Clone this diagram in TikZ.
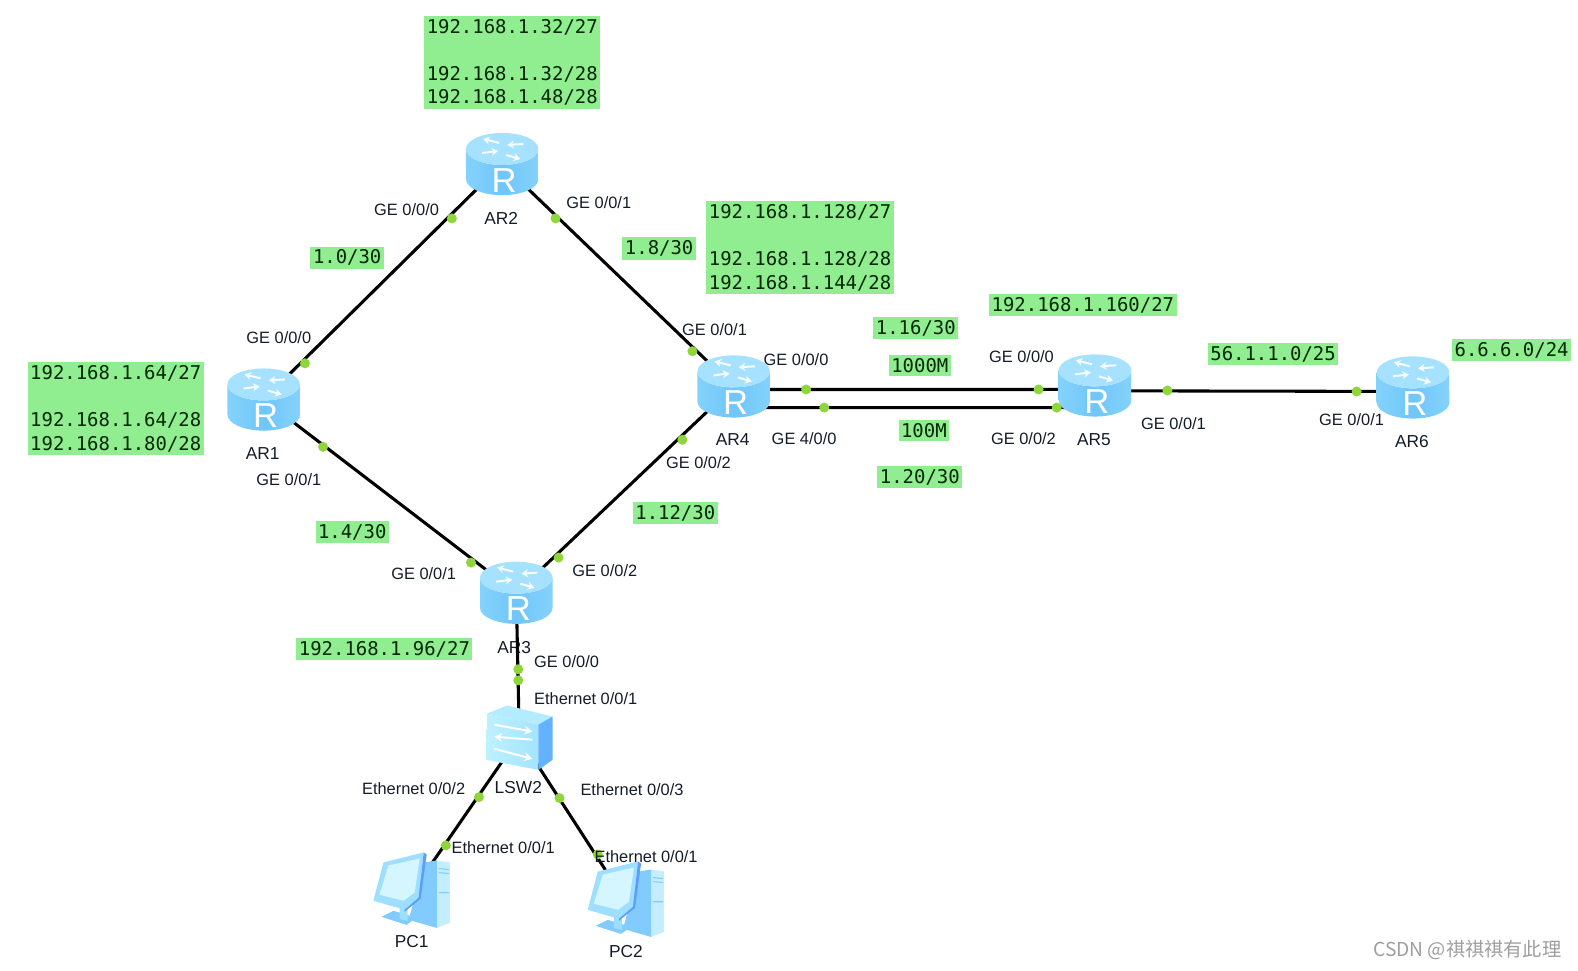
\documentclass[tikz,border=0pt]{standalone}
\usepackage{fontspec}
\setmainfont{Liberation Sans}
\setmonofont{DejaVu Sans Mono}
\newfontfamily\cjkmark{Noto Sans CJK SC}
\usetikzlibrary{arrows.meta}
\definecolor{netgreen}{HTML}{90EE90}
\definecolor{portgreen}{HTML}{8FD63A}
\definecolor{inktext}{HTML}{141C28}
\definecolor{rtop}{HTML}{A6E2FF}
\definecolor{rside}{HTML}{84D2FC}
\definecolor{rmid}{HTML}{70C6F8}
\definecolor{swtop}{HTML}{B4ECFF}
\definecolor{swfrontA}{HTML}{BDF1FF}
\definecolor{swfrontB}{HTML}{A4E4FF}
\definecolor{swside}{HTML}{62B2FF}
\definecolor{pcframe}{HTML}{9EDFFF}
\definecolor{pcscreen}{HTML}{D6F6FF}
\definecolor{pcedge}{HTML}{5C9EFF}
\definecolor{pcdark}{HTML}{82CBFF}
\definecolor{pclight}{HTML}{C4EEFF}
\tikzset{
  x=0.7548pt, y=-0.7548pt,
  hostbox/.style={inner sep=0pt, minimum size=30pt},
  link/.style={line width=2.3pt, black},
  portdot/.style={circle, fill=portgreen, inner sep=0pt, minimum size=7.5pt},
  lbl/.style={font=\fontsize{12.3}{14}\selectfont, text=inktext, inner sep=0pt},
  devlbl/.style={font=\fontsize{13}{15}\selectfont, text=inktext, inner sep=0pt},
  netbox/.style={fill=netgreen, font=\ttfamily\fontsize{14.2}{17.7}\selectfont, text=black!85!green,
                 inner xsep=1.9pt, inner ysep=2.4pt, align=left},
  routericon/.pic={
    \path[left color=rside, right color=rside, middle color=rmid]
      (-36,-15) -- (-36,15) arc[start angle=180,end angle=360,x radius=27.2pt,y radius=12pt]
      -- (36,-15) arc[start angle=0,end angle=-180,x radius=27.2pt,y radius=12pt] -- cycle;
    \path[fill=rtop] (0,-15) ellipse[x radius=27.2pt,y radius=12pt];
    \begin{scope}[white!90!rtop, line width=1.5pt, -{Stealth[length=5pt,width=6pt]}]
      \draw (-3,-21) -- (-19,-25);
      \draw (-20,-11) -- (-4,-13);
      \draw (4,-9) -- (18,-5);
      \draw (21,-20) -- (5,-19);
    \end{scope}
    \node[text=white, font=\fontsize{26}{26}\selectfont, inner sep=0pt] at (2,16) {R};
  },
  switchicon/.pic={
    \path[fill=swtop] (-32,-23) -- (-12,-31) -- (33,-20) -- (19,-12) -- cycle;
    \path[left color=swfrontA, right color=swfrontB]
      (-32,-23) -- (19,-12) -- (19,33) -- (-33,23) -- cycle;
    \path[fill=swside] (19,-12) -- (33,-20) -- (33,23) -- (19,33) -- cycle;
    \begin{scope}[white, line width=1.5pt, -{Stealth[length=6pt,width=6.5pt]}]
      \draw (-25,-12) -- (13,-5);
      \draw (13,3) -- (-25,0);
      \draw (-25,12) -- (13,22);
    \end{scope}
  },
  pcicon/.pic={
    \path[fill=pcdark] (-30,24) -- (-18,18) -- (5,25) -- (-5,32) -- cycle;
    \path[fill=pcframe] (-12,12) -- (-4,12) -- (-4,28) -- (-12,26) -- cycle;
    \path[fill=pclight] (25,-32) -- (38,-30) -- (38,30) -- (25,35) -- cycle;
    \path[fill=pcdark] (13,-30) -- (25,-32) -- (25,35) -- (-3,27) -- cycle;
    \draw[pcdark, line width=0.8pt]
      (27,-24) -- (37,-23) (27,-20) -- (37,-19) (27,0) -- (37,0);
    \path[fill=pcframe] (-28,-30) -- (12,-40) -- (7,5) -- (-7,17) -- (-38,8) -- cycle;
    \path[fill=pcedge] (12,-40) -- (15,-38) -- (9,6) -- (-7,19) -- (-7,17) -- (7,5) -- cycle;
    \path[fill=pcscreen] (-23,-27) -- (8,-34) -- (3,0) -- (-8,8) -- (-32,2) -- cycle;
  }
}
\begin{document}
\begin{tikzpicture}
\useasboundingbox (0,0) rectangle (1568,964);

% host anchors, centred on each device icon
\node[hostbox] (AR1) at (262,397) {};
\node[hostbox] (AR2) at (499,163) {};
\node[hostbox] (AR3) at (513,589) {};
\node[hostbox] (AR4) at (729,384) {};
\node[hostbox] (AR5) at (1088,383) {};
\node[hostbox] (AR6) at (1404,385) {};
\node[hostbox] (LSW2) at (516,732) {};
\node[hostbox] (PC1) at (409,887) {};
\node[hostbox] (PC2) at (622,896) {};

% the AR3 caption sits underneath its uplink
\node[devlbl] (capAR3) at (511,643) {AR3};

% links
\draw[link] (AR2) -- (AR1);
\draw[link] (AR2) -- (AR4);
\draw[link] (AR1) -- (AR3);
\draw[link] (AR4) -- (AR3);
\draw[link] (AR3) -- (LSW2);
\draw[link] ([yshift=-2.3pt]AR4.center) -- ([yshift=-3pt]AR5.center);
\draw[link] ([yshift=-15.9pt]AR4.center) -- ([yshift=-16.6pt]AR5.center);
\draw[link] ([yshift=-4pt]AR5.center) -- ([yshift=-3pt]AR6.center);
\draw[link] (LSW2) -- (PC1);
\draw[link] (LSW2) -- (PC2);

% device icons
\foreach \px/\py in {262/397, 499/163, 513/589, 729/384, 1088/383, 1404/385}
  \pic at (\px,\py) {routericon};
\pic at (516,732) {switchicon};
\pic at (409,887) {pcicon};
\pic at (622,896) {pcicon};

% port markers
\node[portdot] (d1) at (449,217) {};
\node[portdot] (d2) at (303,361) {};
\node[portdot] (d3) at (552,217) {};
\node[portdot] (d4) at (688,349) {};
\node[portdot] (d5) at (321,444) {};
\node[portdot] (d6) at (468,559) {};
\node[portdot] (d7) at (555,554) {};
\node[portdot] (d8) at (678,437) {};
\node[portdot] (d9) at (515,665) {};
\node[portdot] (d10) at (515,676) {};
\node[portdot] (d11) at (801,387) {};
\node[portdot] (d12) at (1032,387) {};
\node[portdot] (d13) at (819,405) {};
\node[portdot] (d14) at (1050,405) {};
\node[portdot] (d15) at (1160,388) {};
\node[portdot] (d16) at (1348,389) {};
\node[portdot] (d17) at (476,792) {};
\node[portdot] (d18) at (556,793) {};
\node[portdot] (d19) at (443,840) {};
\node[portdot] (d20) at (594,849) {};

% device captions
\node[devlbl] (capAR2) at (498,217) {AR2};
\node[devlbl] (capAR1) at (261,451) {AR1};
\node[devlbl] (capAR4) at (728,437) {AR4};
\node[devlbl] (capAR5) at (1087,437) {AR5};
\node[devlbl] (capAR6) at (1403,439) {AR6};
\node[devlbl] (capSW) at (515,783) {LSW2};
\node[devlbl] (capPC1) at (409,936) {PC1};
\node[devlbl] (capPC2) at (622,945) {PC2};

% interface names
\node[lbl] (p1) at (404,208) {GE 0/0/0};
\node[lbl] (p2) at (595,201) {GE 0/0/1};
\node[lbl] (p3) at (277,335) {GE 0/0/0};
\node[lbl] (p4) at (710,328) {GE 0/0/1};
\node[lbl] (p5) at (791,357) {GE 0/0/0};
\node[lbl] (p6) at (287,477) {GE 0/0/1};
\node[lbl] (p7) at (799,436) {GE 4/0/0};
\node[lbl] (p8) at (694,460) {GE 0/0/2};
\node[lbl] (p9) at (421,570) {GE 0/0/1};
\node[lbl] (p10) at (601,567) {GE 0/0/2};
\node[lbl] (p11) at (563,657) {GE 0/0/0};
\node[lbl] (p12) at (582,694) {Ethernet 0/0/1};
\node[lbl] (p13) at (411,784) {Ethernet 0/0/2};
\node[lbl] (p14) at (628,785) {Ethernet 0/0/3};
\node[lbl] (p15) at (500,842) {Ethernet 0/0/1};
\node[lbl] (p16) at (642,851) {Ethernet 0/0/1};
\node[lbl] (p17) at (1015,354) {GE 0/0/0};
\node[lbl] (p18) at (1017,436) {GE 0/0/2};
\node[lbl] (p19) at (1166,421) {GE 0/0/1};
\node[lbl] (p20) at (1343,417) {GE 0/0/1};

% subnet tags
\node[netbox] (n1) at (509,62) {192.168.1.32/27\\\mbox{}\\192.168.1.32/28\\192.168.1.48/28};
\node[netbox] (n2) at (115,406) {192.168.1.64/27\\\mbox{}\\192.168.1.64/28\\192.168.1.80/28};
\node[netbox] (n3) at (795,246) {192.168.1.128/27\\\mbox{}\\192.168.1.128/28\\192.168.1.144/28};
\node[netbox] (n4) at (345,256) {1.0/30};
\node[netbox] (n5) at (655,247) {1.8/30};
\node[netbox] (n6) at (350,529) {1.4/30};
\node[netbox] (n7) at (671,510) {1.12/30};
\node[netbox] (n8) at (382,645) {192.168.1.96/27};
\node[netbox] (n9) at (910,326) {1.16/30};
\node[netbox] (n10) at (914,363) {1000M};
\node[netbox] (n11) at (918,428) {100M};
\node[netbox] (n12) at (914,474) {1.20/30};
\node[netbox] (n13) at (1076,303) {192.168.1.160/27};
\node[netbox] (n14) at (1265,352) {56.1.1.0/25};
\node[netbox] (n15) at (1502,348) {6.6.6.0/24};

% credit line
\node[font=\cjkmark\fontsize{14.4}{16}\selectfont, text=black!38, inner sep=0pt] (credit) at (1458,944) {CSDN @祺祺祺有此理};
\end{tikzpicture}
\end{document}
